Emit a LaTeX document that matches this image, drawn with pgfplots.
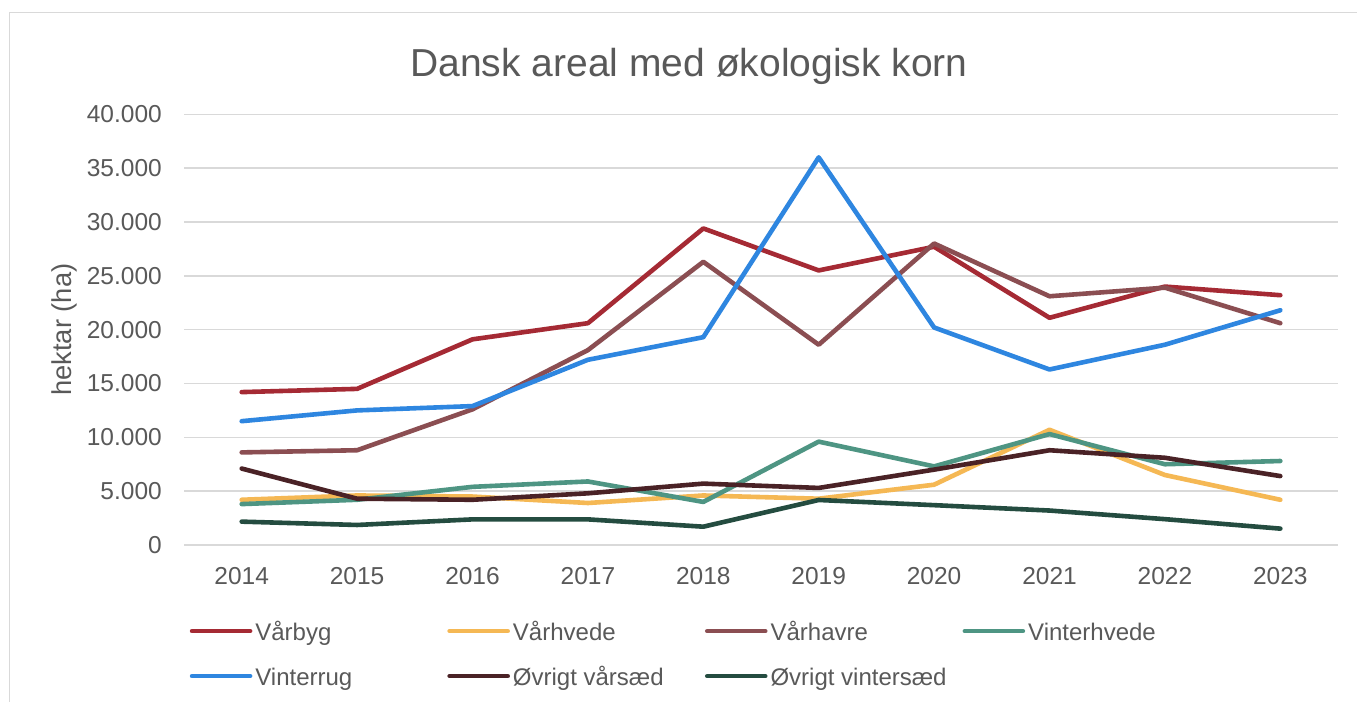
\documentclass[border=0pt]{standalone}
\usepackage{pgfplots}
\usepackage{pgfplotstable}
\pgfplotsset{compat=1.18}
\usepackage{fontspec}
\setmainfont{Liberation Sans}
\definecolor{txtgray}{HTML}{595959}
\definecolor{gridgray}{HTML}{D9D9D9}
\definecolor{cVaarbyg}{HTML}{A52A34}
\definecolor{cVaarhvede}{HTML}{F5B854}
\definecolor{cVaarhavre}{HTML}{8B4E52}
\definecolor{cVinterhvede}{HTML}{4E9583}
\definecolor{cVinterrug}{HTML}{2E86E0}
\definecolor{cOvrVaar}{HTML}{4A2226}
\definecolor{cOvrVinter}{HTML}{244C40}

\pgfplotstableread{
year Vaarbyg Vaarhvede Vaarhavre Vinterhvede Vinterrug OvrVaar OvrVinter
2014 14200 4200 8600 3800 11500 7100 2170
2015 14500 4600 8800 4200 12500 4300 1860
2016 19100 4500 12600 5400 12900 4200 2380
2017 20600 3900 18100 5900 17200 4800 2380
2018 29400 4600 26300 4000 19300 5700 1700
2019 25500 4300 18600 9600 36000 5300 4180
2020 27700 5600 28000 7300 20200 7000 3700
2021 21100 10700 23100 10300 16300 8800 3200
2022 24000 6500 23900 7500 18600 8100 2400
2023 23200 4200 20600 7800 21800 6400 1520
}\datatable

\begin{document}
\begin{tikzpicture}
\path[use as bounding box, fill=white] (0bp,0bp) rectangle (1357bp,702bp);
\draw[gridgray, line width=1.5bp] (9.3bp,0bp) -- (9.3bp,689.3bp) -- (1357bp,689.3bp);
\node[anchor=base, text=txtgray, font=\fontsize{39bp}{46bp}\selectfont, inner sep=0pt] at (689bp,625bp) {Dansk areal med økologisk korn};
\begin{axis}[
  at={(184bp,157bp)}, anchor=south west,
  width=1154bp, height=430.7bp, scale only axis,
  xmin=2013.5, xmax=2023.5,
  ymin=0, ymax=40000,
  xtick={2014,2015,2016,2017,2018,2019,2020,2021,2022,2023},
  ytick={0,5000,10000,15000,20000,25000,30000,35000,40000},
  scaled y ticks=false,
  /pgf/number format/assume math mode=true,
  y tick label style={/pgf/number format/fixed, /pgf/number format/1000 sep={.}},
  x tick label style={/pgf/number format/1000 sep={}},
  tick label style={font=\fontsize{24.5bp}{29bp}\selectfont, text=txtgray},
  yticklabel style={anchor=east, inner sep=0pt, xshift=-22bp},
  xticklabel style={anchor=north, inner sep=0pt, yshift=-22bp},
  major tick length=0pt,
  axis line style={draw=none},
  ymajorgrids,
  grid style={gridgray, line width=1.5bp},
  ylabel={hektar (ha)},
  ylabel style={at={(axis description cs:-0.104,0.5)}, anchor=center, font=\fontsize{27.3bp}{32bp}\selectfont, text=txtgray},
  every axis plot/.append style={line width=4.6bp, line join=round, line cap=round},
  legend columns=4,
  legend image code/.code={\draw[#1] (0bp,9bp) -- (58bp,9bp);},
  legend style={at={(axis description cs:0.005,-0.179)}, anchor=north west,
    draw=none, fill=none, inner sep=0pt, outer sep=0pt,
    font=\fontsize{24bp}{29bp}\selectfont, text=txtgray,
    row sep=21bp,
    nodes={inner sep=0pt, text height=18bp, text depth=6bp, anchor=base west},
    /tikz/every odd column/.append style={column sep=3bp},
    /tikz/every even column/.append style={column sep=0bp}},
]
\addplot[cVaarbyg] table[x=year, y=Vaarbyg] {\datatable};
\addlegendentry{\makebox[192bp][l]{Vårbyg}}
\addplot[cVaarhvede] table[x=year, y=Vaarhvede] {\datatable};
\addlegendentry{\makebox[192bp][l]{Vårhvede}}
\addplot[cVaarhavre] table[x=year, y=Vaarhavre] {\datatable};
\addlegendentry{\makebox[192bp][l]{Vårhavre}}
\addplot[cVinterhvede] table[x=year, y=Vinterhvede] {\datatable};
\addlegendentry{\makebox[192bp][l]{Vinterhvede}}
\addplot[cVinterrug] table[x=year, y=Vinterrug] {\datatable};
\addlegendentry{\makebox[192bp][l]{Vinterrug}}
\addplot[cOvrVaar] table[x=year, y=OvrVaar] {\datatable};
\addlegendentry{\makebox[192bp][l]{Øvrigt vårsæd}}
\addplot[cOvrVinter] table[x=year, y=OvrVinter] {\datatable};
\addlegendentry{\makebox[192bp][l]{Øvrigt vintersæd}}
\end{axis}
\end{tikzpicture}
\end{document}
